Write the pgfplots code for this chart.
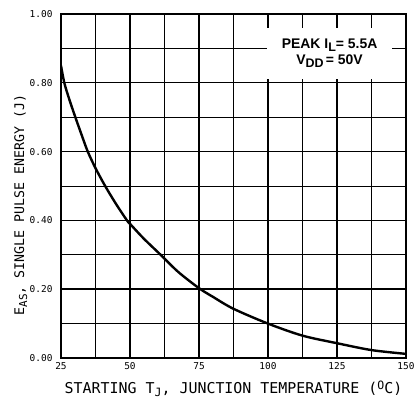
\documentclass[border=0pt]{standalone}
\usepackage{pgfplots}
\pgfplotsset{compat=1.18}
\usepackage{fontspec}
\setmainfont{DejaVu Sans Mono}
\newfontfamily\annfont{Liberation Sans}

\begin{document}
\begin{tikzpicture}
\useasboundingbox (-61bp,-42bp) rectangle (356bp,358bp);
\begin{axis}[
  at={(0,0)}, anchor=south west,
  scale only axis, width=345bp, height=344bp,
  xmin=25, xmax=150, ymin=0, ymax=1,
  xtick={25,50,75,100,125,150},
  ytick={0,0.2,0.4,0.6,0.8,1},
  minor xtick={37.5,62.5,87.5,112.5,137.5},
  minor ytick={0.1,0.3,0.5,0.7,0.9},
  grid=both,
  major grid style={black, line width=1.4bp},
  minor grid style={black, line width=0.9bp},
  axis line style={line width=2.2bp},
  major tick length=0pt, minor tick length=0pt,
  tick label style={font=\fontsize{9.5}{10}\selectfont},
  /pgf/number format/assume math mode=true,
  yticklabel style={/pgf/number format/.cd,fixed,fixed zerofill,precision=2,/tikz/.cd, xshift=-5bp},
  xticklabel style={yshift=-1bp},
  xlabel={STARTING T\raisebox{-3bp}{\fontsize{11.5}{11}\selectfont J}, JUNCTION TEMPERATURE (\raisebox{3.5bp}{\fontsize{11.5}{11}\selectfont O}C)},
  xlabel style={at={(axis description cs:0.5,0)}, anchor=base, yshift=-35bp, font=\fontsize{15}{16}\selectfont},
  ylabel={E\raisebox{-3bp}{\fontsize{11}{11}\selectfont AS}, SINGLE PULSE ENERGY  (J)},
  ylabel style={at={(axis description cs:-0.1072,0.445)}, anchor=base, font=\fontsize{13.3}{14}\selectfont},
]
\addplot[black, line width=2.4bp, smooth] coordinates {
(25,0.85) (26.2,0.80) (28,0.752) (30.2,0.70) (32.5,0.648) (34.7,0.60)
(37.5,0.552) (41,0.50) (45,0.447) (48.9,0.40) (50,0.39) (55,0.347)
(61.1,0.30) (67.5,0.25) (75,0.203) (80,0.178)
(87.5,0.143) (100,0.10) (112.5,0.065)
(125,0.043) (137.5,0.023) (150,0.012)
};
\node[fill=white, minimum width=125bp, minimum height=51bp, inner sep=0pt, align=center,
      font=\annfont\bfseries\fontsize{14}{16}\selectfont] at (axis cs:122.3,0.885)
  {PEAK I\raisebox{-3bp}{\fontsize{12.5}{12}\selectfont L}= 5.5A\\
   V\raisebox{-3bp}{\fontsize{12.5}{12}\selectfont DD}\,= 50V};
\end{axis}
\end{tikzpicture}
\end{document}
